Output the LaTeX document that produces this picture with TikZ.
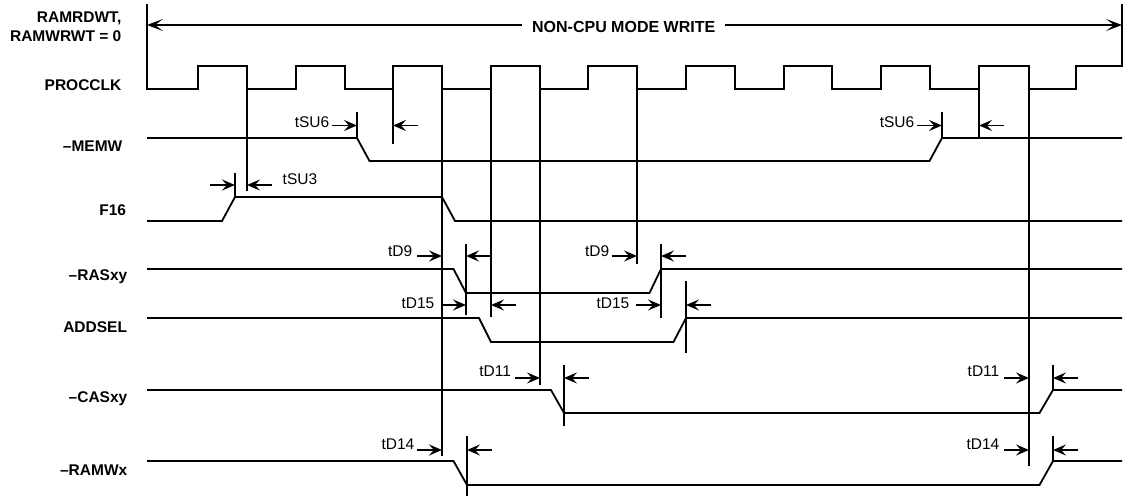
\documentclass[tikz,border=0pt]{standalone}
\usepackage{fontspec}
\setmainfont{Liberation Sans}
\usepackage{tikz}
\usetikzlibrary{arrows.meta, calc}

% delay arrows: head ends at x, 25 units long
\newcommand{\dlyright}[2]{\draw[dly] (#1-25,#2) -- (#1,#2);}
\newcommand{\dlyleft}[2]{\draw[dly] (#1+25,#2) -- (#1,#2);}

\tikzset{
  sig/.style={line width=1.8pt, line join=miter},
  ref/.style={line width=1.8pt},
  dly/.style={line width=1.8pt, -{Stealth[length=13pt,width=11pt,inset=5pt]}},
  span/.style={line width=1.5pt, -{Stealth[length=16pt,width=12pt,inset=8pt]}},
  siglbl/.style={font=\fontsize{15.5}{18}\selectfont\bfseries, inner sep=0pt, anchor=base east},
  tlbl/.style={font=\fontsize{15.5}{18}\selectfont, inner sep=0pt, anchor=base east},
}

\begin{document}
\begin{tikzpicture}[x=1pt, y=-1pt]

\useasboundingbox (0.5,0.5) rectangle (1128.5,497.5);

% Levels and extent
\def\ckhi{66.5}   % clock high level
\def\cklo{89.5}   % clock low level
\def\xs{147.5}    % start of traces
\def\xe{1122.5}   % end of traces

% Span arrow
\node[font=\fontsize{16}{18}\selectfont\bfseries, inner xsep=10pt, inner ysep=0pt] (title) at (624.2,27) {NON-CPU MODE WRITE};
\draw[span] (title.west |- 0,25.5) -- (\xs,25.5);
\draw[span] (title.east |- 0,25.5) -- (\xe,25.5);

% Signal names
\node[siglbl] (ramrd) at (122,23.3) {RAMRDWT,};
\node[siglbl] (ramwr) at (122,41.7) {RAMWRWT = 0};
\node[siglbl] (procclk) at (122,90.7) {PROCCLK};
\node[siglbl] (memw) at (123,152) {–MEMW};
\node[siglbl] (f16) at (126.7,216) {F16};
\node[siglbl] (rasxy) at (128,280.7) {–RASxy};
\node[siglbl] (addsel) at (127.7,332.7) {ADDSEL};
\node[siglbl] (casxy) at (128,402.7) {–CASxy};
\node[siglbl] (ramwx) at (128,476) {–RAMWx};

% PROCCLK (with the two bracket ends of the span)
\draw[sig] (\xs,5) -- (\xs,\cklo)
  foreach \r/\f in {198.5/247.5, 296.5/345.5, 393.5/442.5, 491.5/540.5, 588.5/637.5,
                    686.5/735.5, 784.5/832.5, 881.5/930.5, 979.5/1029.5}{
    -- (\r,\cklo) -- (\r,\ckhi) -- (\f,\ckhi) -- (\f,\cklo)
  }
  -- (1076.5,\cklo) -- (1076.5,\ckhi) -- (\xe,\ckhi) -- (\xe,5);

% Lines dropped from clock edges
\foreach \x/\yb in {247.5/191.5, 393.5/145, 442.5/456.5, 491.5/317,
                    540.5/385, 637.5/265, 979.5/140, 1029.5/466.5}
  \draw[ref] (\x,\cklo) -- (\x,\yb);

% -MEMW
\draw[sig] (\xs,138.5) -- (357.5,138.5) -- (370,161.5) -- (930,161.5) -- (942.5,138.5) -- (\xe,138.5);
% F16
\draw[sig] (\xs,221.5) -- (222.5,221.5) -- (235.5,197.5) -- (442.5,197.5) -- (455.5,221.5) -- (\xe,221.5);
% -RASxy
\draw[sig] (\xs,269.5) -- (454,269.5) -- (466.5,293.5) -- (650,293.5) -- (661.5,269.5) -- (\xe,269.5);
% ADDSEL
\draw[sig] (\xs,318.5) -- (479.5,318.5) -- (491.5,342.5) -- (674,342.5) -- (686.5,318.5) -- (\xe,318.5);
% -CASxy
\draw[sig] (\xs,390.5) -- (551.5,390.5) -- (564.5,413.5) -- (1040,413.5) -- (1053.5,390.5) -- (\xe,390.5);
% -RAMWx
\draw[sig] (\xs,461.5) -- (454,461.5) -- (467.5,485.5) -- (1040,485.5) -- (1053.5,461.5) -- (\xe,461.5);

% Ticks at signal edges
\foreach \x/\ya/\yb in {357.5/113/138.5, 942.5/113/138.5, 235.5/173.5/197.5,
                        466.5/245/315, 661.5/245/318.5, 686.5/281.5/353.5,
                        564.5/365/426.5, 1053.5/365/390.5,
                        467.5/436.5/496.5, 1053.5/436.5/461.5}
  \draw[ref] (\x,\ya) -- (\x,\yb);

% tSU6
\dlyright{357.5}{126} \dlyleft{393.5}{126}
\dlyright{942.5}{126} \dlyleft{979.5}{126}
\node[tlbl] (tsua) at (330,128) {tSU6};
\node[tlbl] (tsub) at (915,128) {tSU6};

% tSU3
\dlyright{235.5}{185.5} \dlyleft{247.5}{185.5}
\node[tlbl, anchor=base west] (tsuc) at (283,185.5) {tSU3};

% tD9
\dlyright{442.5}{256.5} \dlyleft{466.5}{256.5}
\dlyright{637.5}{256.5} \dlyleft{661.5}{256.5}
\node[tlbl] (tda) at (413,256.7) {tD9};
\node[tlbl] (tdb) at (610,256.7) {tD9};

% tD15
\dlyright{466.5}{305.5} \dlyleft{491.5}{305.5}
\dlyright{661.5}{305.5} \dlyleft{686.5}{305.5}
\node[tlbl] (tdc) at (435,309) {tD15};
\node[tlbl] (tdd) at (630,309) {tD15};

% tD11
\dlyright{540.5}{378.5} \dlyleft{564.5}{378.5}
\dlyright{1029.5}{378.5} \dlyleft{1053.5}{378.5}
\node[tlbl] (tde) at (511.7,377) {tD11};
\node[tlbl] (tdf) at (1000,377) {tD11};

% tD14
\dlyright{442.5}{450.5} \dlyleft{467.5}{450.5}
\dlyright{1029.5}{450.5} \dlyleft{1053.5}{450.5}
\node[tlbl] (tdg) at (415,449.5) {tD14};
\node[tlbl] (tdh) at (1000,449.5) {tD14};

\end{tikzpicture}
\end{document}
